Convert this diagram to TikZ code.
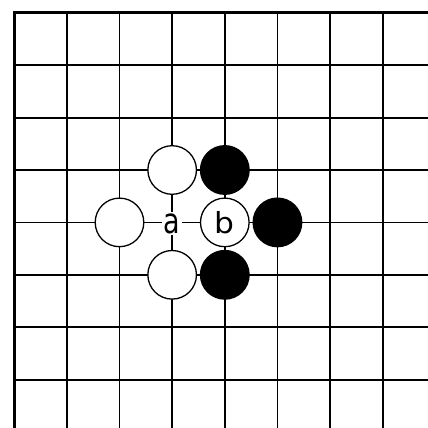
\documentclass[tikz,border=0pt]{standalone}
\usepackage{fontspec}
\setmainfont{DejaVu Sans}
\begin{document}
\begin{tikzpicture}[x=1pt,y=-1pt,
  gridline/.style={line width=1.8pt},
  edgeline/.style={line width=2.6pt},
  stone/.style={circle,draw=black,line width=1.3pt,minimum size=48.6pt,inner sep=0pt},
  wstone/.style={stone,fill=white},
  bstone/.style={stone,fill=black},
  lbl/.style={fill=white,inner sep=1.5pt}]
\useasboundingbox (0,0) rectangle (428,428);
\fill[white] (0,0) rectangle (428,428);
% grid
\foreach \i in {1,...,7}
  \draw[gridline] ({14.2+52.65*\i},12.8) -- ({14.2+52.65*\i},428);
\foreach \j in {1,...,7}
  \draw[gridline] (14.2,{12.8+52.4*\j}) -- (428,{12.8+52.4*\j});
\draw[edgeline] (14.2,428) -- (14.2,12.8) -- (428,12.8);
% stones
\node[wstone] (w1) at ({14.2+52.65*3},{12.8+52.4*3}) {};
\node[bstone] (b1) at ({14.2+52.65*4},{12.8+52.4*3}) {};
\node[wstone] (w2) at ({14.2+52.65*2},{12.8+52.4*4}) {};
\node[lbl] (a) at ({14.2+52.65*3},{12.8+52.4*4+1.2}) {\fontsize{27}{27}\selectfont\scalebox{1}[1.3]{a}};
\node[wstone] (wb) at ({14.2+52.65*4},{12.8+52.4*4}) {\fontsize{29}{29}\selectfont\scalebox{1.08}[1]{b}};
\node[bstone] (b2) at ({14.2+52.65*5},{12.8+52.4*4}) {};
\node[wstone] (w3) at ({14.2+52.65*3},{12.8+52.4*5}) {};
\node[bstone] (b3) at ({14.2+52.65*4},{12.8+52.4*5}) {};
\end{tikzpicture}
\end{document}
